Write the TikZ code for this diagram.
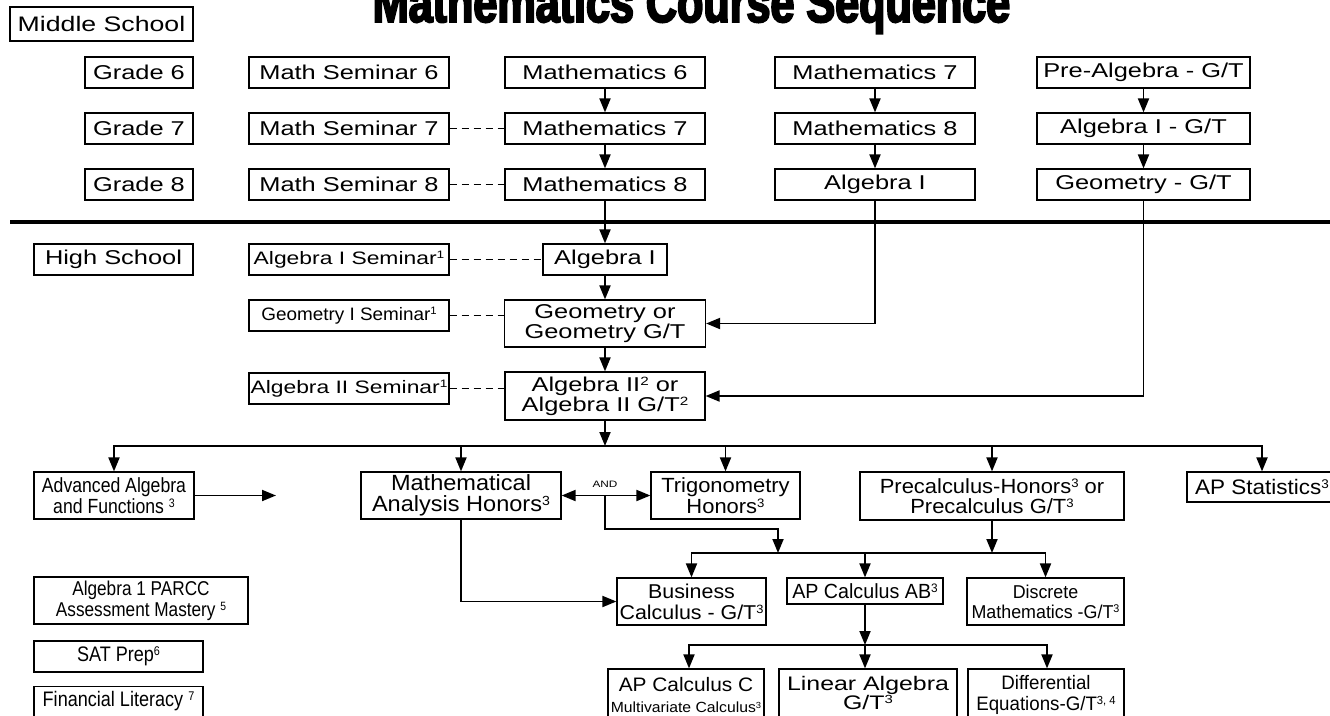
\documentclass[tikz,border=0pt]{standalone}
\usepackage{graphicx}
\usepackage{fontspec}
\setmainfont{Liberation Sans}
\newfontfamily\fA{Liberation Sans}[FakeStretch=1.27]
\newfontfamily\fB{Liberation Sans}[FakeStretch=1.07]
\newfontfamily\fC{Liberation Sans}[FakeStretch=0.96]
\newfontfamily\fD{Liberation Sans}[FakeStretch=0.86]
\newfontfamily\fE{Liberation Sans}[FakeStretch=1.05]
\newfontfamily\fT{Liberation Sans}[FakeStretch=0.77,BoldFeatures={FakeBold=3.5}]
\usetikzlibrary{arrows.meta}
\newcommand\Sp[1]{\raisebox{0.55ex}{\scalebox{0.6}{#1}}}
\begin{document}
\begin{tikzpicture}[x=1pt,y=-1pt,
  box/.style={draw, line width=1.2pt, inner sep=0pt, align=center},
  sz/.style 2 args={minimum width=#1, minimum height=#2},
  fa/.style={font={\fA\fontsize{#1}{20}\selectfont}},
  fb/.style={font={\fB\fontsize{#1}{20.5}\selectfont}},
  fc/.style={font={\fC\fontsize{#1}{20.5}\selectfont}},
  fd/.style={font={\fD\fontsize{#1}{21}\selectfont}},
  tip/.tip={Triangle[length=14pt,width=11pt]},
  arr/.style={line width=1.9pt, -tip},
  ln/.style={line width=1.9pt},
  dsh/.style={line width=1.7pt, dash pattern=on 7pt off 5pt},
  ]
\useasboundingbox (0,0) rectangle (1330,715);
\clip (0,0) rectangle (1330,715);
\fill[white] (0,0) rectangle (1330,715);

% title
\node[anchor=base, inner sep=0pt, font={\fT\bfseries\fontsize{56}{56}\selectfont}] (title) at (691.5,22) {Mathematics Course Sequence};

% middle school
\node[box, sz={183}{34}, font={\fA\fontsize{21}{21}\selectfont}] (ms) at (101.5,24) {Middle School};
\node[box, sz={108}{31}, fa=20] (g6) at (139,72.5) {Grade 6};
\node[box, sz={108}{31}, fa=20] (g7) at (139,128.5) {Grade 7};
\node[box, sz={108}{31}, fa=20] (g8) at (139,184.5) {Grade 8};
\node[box, sz={200}{31}, fa=20] (s6) at (349,72.5) {Math Seminar 6};
\node[box, sz={200}{31}, fa=20] (s7) at (349,128.5) {Math Seminar 7};
\node[box, sz={200}{31}, fa=20] (s8) at (349,184.5) {Math Seminar 8};
\node[box, sz={200}{31}, fa=20] (m6) at (605,72.5) {Mathematics 6};
\node[box, sz={200}{31}, fa=20] (m7a) at (605,128.5) {Mathematics 7};
\node[box, sz={200}{31}, fa=20] (m8a) at (605,184.5) {Mathematics 8};
\node[box, sz={200}{31}, fa=20] (m7b) at (875,72.5) {Mathematics 7};
\node[box, sz={200}{31}, fa=20] (m8b) at (875,128.5) {Mathematics 8};
\node[box, sz={200}{31}, fa=20] (a1b) at (875,184.5) {Algebra I};
\node[box, sz={213}{31}, fa=20] (pa) at (1143.5,72.5) {Pre-Algebra - G/T};
\node[box, sz={213}{31}, fa=20] (agt) at (1143.5,128.5) {Algebra I - G/T};
\node[box, sz={213}{31}, fa=20] (ggt) at (1143.5,184.5) {Geometry - G/T};

% divider
\coordinate (divl) at (10,222);
\coordinate (divr) at (1340,222);
\draw[line width=4.5pt] (divl) -- (divr);

% high school
\node[box, sz={159}{31}, fa=20] (hs) at (113.5,259.5) {High School};
\node[box, sz={200}{31}, fa=18] (asem) at (349,259.5) {Algebra I Seminar\Sp{1}};
\node[box, sz={124}{31}, fa=20] (a1) at (605,259.5) {Algebra I};
\node[box, sz={200}{31}, font={\fE\fontsize{18}{20}\selectfont}] (gsem) at (349,315.5) {Geometry I Seminar\Sp{1}};
\node[box, sz={201}{47}, font={\fA\fontsize{20}{19.5}\selectfont}] (geo) at (605,323.5) {Geometry or\\Geometry G/T};
\node[box, sz={200}{31}, fa=18] (a2sem) at (349,388.5) {Algebra II Seminar\Sp{1}};
\node[box, sz={200}{48}, fa=20] (a2) at (605,396) {Algebra II\Sp{2} or\\Algebra II G/T\Sp{2}};

% row 4
\node[box, sz={160}{47}, fd=20.5] (aa) at (114,495.5) {Advanced Algebra\\and Functions \Sp{3}};
\node[box, sz={200}{47}, font={\fB\fontsize{22}{20.6}\selectfont}] (mah) at (461,495.5) {Mathematical\\Analysis Honors\Sp{3}};
\node[box, sz={149}{47}, fb=20.5] (trig) at (725.5,495.5) {Trigonometry\\Honors\Sp{3}};
\node[box, sz={264}{48}, fb=20.5] (pre) at (992,496) {Precalculus-Honors\Sp{3} or\\Precalculus G/T\Sp{3}};
\node[box, sz={150}{30}, fb=21] (aps) at (1262,487) {AP Statistics\Sp{3}};
\node[inner sep=0pt, font={\fA\fontsize{9.3}{10}\selectfont}] (and) at (605,484.3) {AND};

% row 5
\node[box, sz={149}{47}, font={\fB\fontsize{20}{21}\selectfont}] (busc) at (691.5,601.5) {Business\\Calculus - G/T\Sp{3}};
\node[box, sz={156}{26}, fc=20.5] (apab) at (865,591) {AP Calculus AB\Sp{3}};
\node[box, sz={157}{47}, font={\fC\fontsize{18.6}{20}\selectfont}] (disc) at (1045.5,601.5) {Discrete\\Mathematics -G/T\Sp{3}};

% left column
\node[box, sz={214}{47}, fd=20] (parcc) at (141,600.5) {Algebra 1 PARCC\\Assessment Mastery \Sp{5}};
\node[box, sz={169}{31}, fd=21] (sat) at (118.5,656.5) {SAT Prep\Sp{6}};
\node[box, sz={169}{30}, fd=21] (fin) at (118.5,701.5) {Financial Literacy \Sp{7}};

% row 6
\node[box, sz={156}{52}, font={\fB\fontsize{19.5}{21}\selectfont}] (apc) at (686,695) {AP Calculus C\\{\fontsize{14.7}{21}\selectfont Multivariate Calculus\Sp{3}}};
\node[box, sz={178}{48}, font={\fA\fontsize{19.6}{18.5}\selectfont}] (lin) at (868,693) {Linear Algebra\\G/T\Sp{3}};
\node[box, sz={156}{52}, font={\fC\fontsize{19.5}{21}\selectfont}] (dif) at (1046,695) {Differential\\Equations-G/T\Sp{3, 4}};

% connectors middle school
\draw[arr] (m6) -- (m7a);
\draw[arr] (m7a) -- (m8a);
\draw[arr] (m8a) -- (a1);
\draw[arr] (m7b) -- (m8b);
\draw[arr] (m8b) -- (a1b);
\draw[arr] (pa) -- (agt);
\draw[arr] (agt) -- (ggt);
\draw[dsh] (s7) -- (m7a);
\draw[dsh] (s8) -- (m8a);

% high school connectors
\draw[dsh] (asem) -- (a1);
\draw[dsh] (gsem.east) -- (gsem.east -| geo.west);
\draw[dsh] (a2sem.east) -- (a2sem.east -| a2.west);
\draw[arr] (a1) -- (geo);
\draw[arr] (geo) -- (a2);
\draw[arr] (a1b.south) |- (geo.east);
\draw[arr] (ggt.south) |- (a2.east);

% bus 1
\coordinate (b1) at (605,446);
\draw[arr] (a2.south) -- (b1);
\draw[arr] (b1) -| (aa.north);
\draw[arr] (b1) -| (aps.north);
\draw[arr] (mah.north |- b1) -- (mah.north);
\draw[arr] (trig.north |- b1) -- (trig.north);
\draw[arr] (pre.north |- b1) -- (pre.north);

% row 4 connectors
\coordinate (aaend) at (276,495.5);
\draw[arr] (aa.east) -- (aaend);
\draw[line width=1.9pt, tip-tip] (mah.east) -- (trig.west);
\coordinate (j1) at (605,495.5);
\coordinate (lv) at (605,529);
\coordinate (k) at (778,553);
\draw[arr] (j1) -- (lv) -| (k);
\coordinate (b2) at (865,553);
\draw[arr] (pre.south) -- (pre.south |- b2);

% bus 2
\draw[arr] (b2) -| (busc.north);
\draw[arr] (b2) -| (disc.north);
\draw[arr] (b2) -- (apab.north);
\draw[arr] (mah.south) |- (busc.west);

% bus 3
\coordinate (b3) at (865,645);
\coordinate (b3l) at (689,645);
\coordinate (b3r) at (1047,645);
\draw[arr] (apab.south) -- (b3);
\draw[arr] (b3) -| (b3l |- apc.north);
\draw[arr] (b3) -| (b3r |- dif.north);
\draw[arr] (b3) -- (b3 |- lin.north);
\end{tikzpicture}
\end{document}
